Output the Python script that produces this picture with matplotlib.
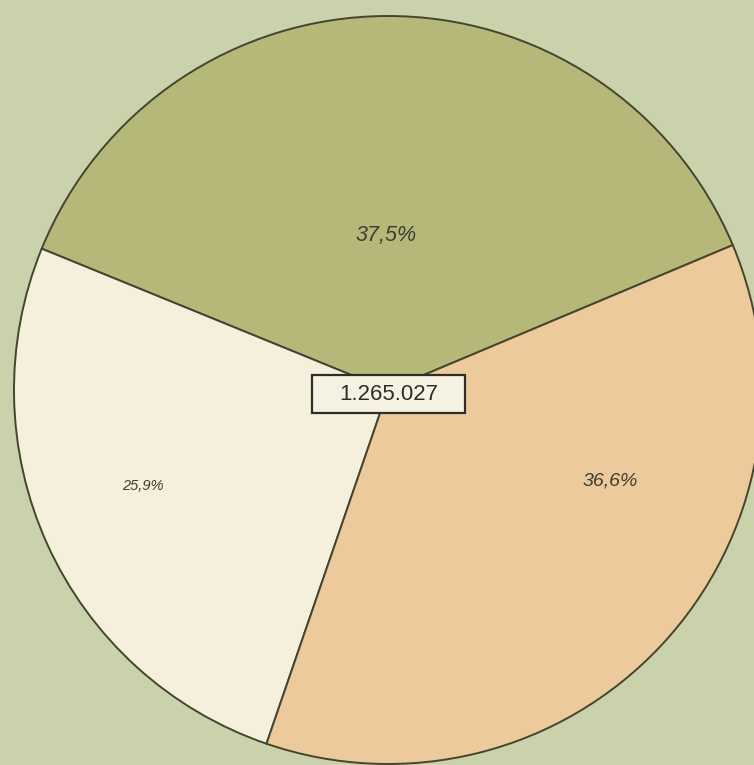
import matplotlib
matplotlib.use("Agg")
import matplotlib.pyplot as plt
from matplotlib.patches import Rectangle

# Data
categories = ["A", "B", "C"]
shares = [37.5, 25.9, 36.6]
share_labels = ["37,5%", "25,9%", "36,6%"]
total_label = "1.265.027"

colors = ["#b6b87a", "#f4f0dc", "#ecca9c"]
bg = "#c9d2ab"
edge = "#45452f"

W, H = 754, 765
fig = plt.figure(figsize=(W / 100, H / 100), dpi=100, facecolor=bg)
ax = fig.add_axes([0, 0, 1, 1])
ax.set_facecolor(bg)

cx, cy, r = 388, H - 390, 374
ax.pie(shares, colors=colors, startangle=22.8, counterclock=True,
       center=(cx, cy), radius=r,
       wedgeprops=dict(edgecolor=edge, linewidth=1.4))

ax.set_xlim(0, W)
ax.set_ylim(0, H)
ax.set_aspect("equal")
ax.axis("off")

font = ["Liberation Sans", "DejaVu Sans"]
# percentage labels (positions as in the original)
label_pos = [(386, H - 235), (143, H - 486), (610, H - 481)]
label_sizes = [15.5, 10.5, 14]
for txt, (x, y), s in zip(share_labels, label_pos, label_sizes):
    ax.text(x, y, txt, ha="center", va="center", fontsize=s,
            style="italic", color="#3e3e30", family=font)

# central total box
bw, bh = 153, 38
bx, by = 388.5, H - 394
ax.add_patch(Rectangle((bx - bw / 2, by - bh / 2), bw, bh,
                       facecolor="#f5f2e3", edgecolor="#2e2e26",
                       linewidth=1.6, zorder=5))
ax.text(bx, by, total_label, ha="center", va="center", fontsize=16,
        color="#2e2e28", family=font, zorder=6)

fig.savefig("out.png", dpi=100, facecolor=bg)
